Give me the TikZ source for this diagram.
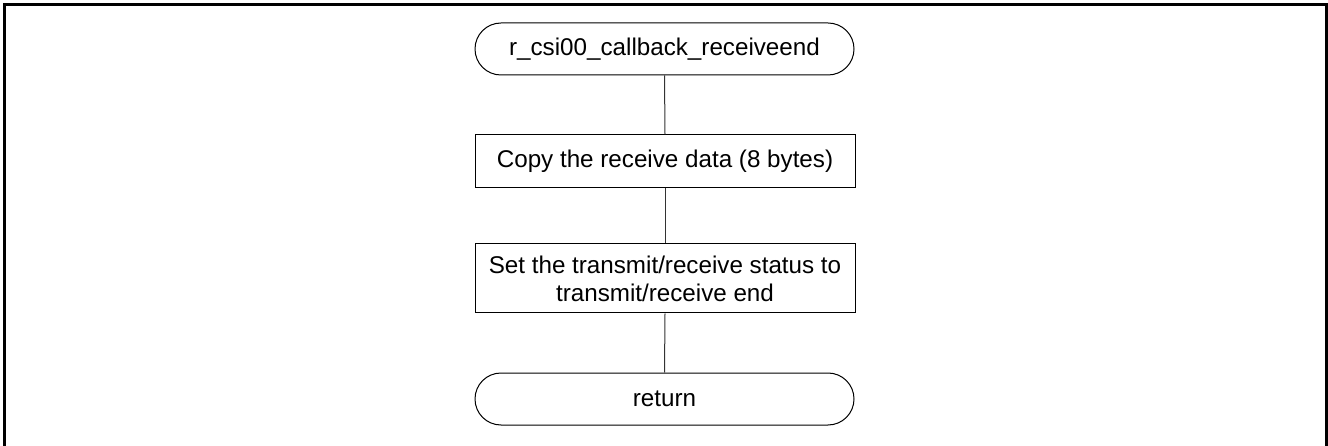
\documentclass[tikz,border=0pt]{standalone}
\usepackage{fontspec}
\setmainfont{Liberation Sans}
\usetikzlibrary{shapes.misc}
\begin{document}
\begin{tikzpicture}[x=1pt,y=-1pt,
  term/.style={draw, line width=1pt, rounded rectangle, minimum width=379pt, minimum height=52pt, inner sep=0pt, font=\fontsize{24.2}{28}\selectfont},
  proc/.style={draw, line width=1pt, rectangle, minimum width=380pt, inner sep=0pt, align=center, font=\fontsize{24.2}{28}\selectfont},
  conn/.style={draw, line width=1pt, black!80}]
\useasboundingbox (0,0) rectangle (1328,446);
\draw[line width=3pt] (4.5,446) -- (4.5,4.5) -- (1326.5,4.5) -- (1326.5,446);
\node[term] (start) at (664.5,49) {r\_csi00\_callback\_receiveend};
\node[proc, minimum height=53pt] (copy) at (665,161.5) {Copy the receive data (8 bytes)};
\node[proc, minimum height=69pt] (set) at (665,278.5) {Set the transmit/receive status to\\transmit/receive end};
\node[term] (ret) at (664.5,399) {return};
\draw[conn] (start.south) -- (copy.north);
\draw[conn] (copy.south) -- (set.north);
\draw[conn] (set.south) -- (ret.north);
\end{tikzpicture}
\end{document}
